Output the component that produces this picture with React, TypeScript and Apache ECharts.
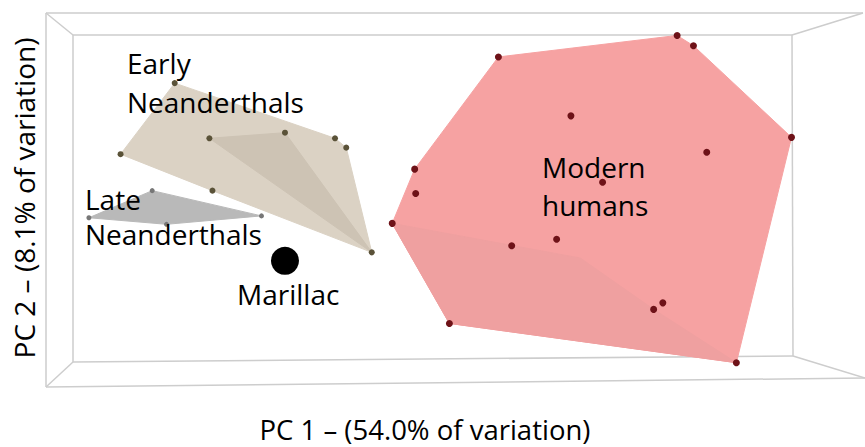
import React, { useEffect, useRef } from "react";
import * as echarts from "echarts";

// PC1 / PC2 scores (arbitrary PC units)
const earlyNeanderthals: [number, number][] = [
  [-2.74, 1.25], [-3.27, 0.49], [-2.40, 0.66], [-1.66, 0.72],
  [-1.17, 0.66], [-1.06, 0.56], [-2.37, 0.10], [-0.81, -0.56],
];
const earlyHull: [number, number][] = [
  [-2.74, 1.25], [-1.17, 0.66], [-1.06, 0.56], [-0.81, -0.56], [-2.37, 0.10], [-3.27, 0.49],
];
const earlyFacet: [number, number][] = [
  [-2.40, 0.66], [-1.66, 0.72], [-0.81, -0.56],
];
const lateNeanderthals: [number, number][] = [
  [-2.96, 0.10], [-3.58, -0.19], [-1.89, -0.17], [-2.82, -0.26],
];
const lateHull: [number, number][] = [
  [-3.58, -0.19], [-2.96, 0.10], [-1.89, -0.17], [-2.82, -0.26],
];
const marillac: [number, number][] = [[-1.66, -0.65]];
const modernHumans: [number, number][] = [
  [2.18, 1.76], [2.34, 1.65], [0.43, 1.53], [1.14, 0.90], [3.30, 0.67],
  [2.47, 0.51], [-0.39, 0.33], [1.45, 0.19], [-0.38, 0.07], [-0.61, -0.25],
  [1.00, -0.42], [0.56, -0.49], [2.04, -1.10], [1.95, -1.17], [-0.05, -1.32],
  [2.76, -1.74],
];
const modernHull: [number, number][] = [
  [0.43, 1.53], [2.18, 1.76], [2.34, 1.65], [3.30, 0.67], [2.76, -1.74],
  [-0.05, -1.32], [-0.61, -0.25], [-0.39, 0.33],
];
const modernFacet: [number, number][] = [
  [-0.61, -0.25], [1.23, -0.62], [1.95, -1.17], [2.76, -1.74], [-0.05, -1.32],
];

const xTitle = "PC 1 – (54.0% of variation)";
const yTitle = "PC 2 – (8.1% of variation)";

const FONT = '"Open Sans", sans-serif';

export default function App() {
  const ref = useRef<HTMLDivElement>(null);
  useEffect(() => {
    if (!ref.current) return;
    document.body.style.margin = "0";
    const chart = echarts.init(ref.current, undefined, { renderer: "svg" });
    const polys = [
      { pts: modernHull, fill: "#f6a2a2" },
      { pts: modernFacet, fill: "#efa0a0" },
      { pts: earlyHull, fill: "#dbd2c4" },
      { pts: earlyFacet, fill: "#cdc3b4" },
      { pts: lateHull, fill: "#b9b9b9" },
    ];
    const frameColor = "#cdcdcd";
    const line = (x1: number, y1: number, x2: number, y2: number) => ({
      type: "line",
      z: -10,
      shape: { x1, y1, x2, y2 },
      style: { stroke: frameColor, lineWidth: 1.5 },
    });
    const label = (text: string, x: number, y: number) => ({
      type: "text",
      z: 100,
      x,
      y,
      style: {
        text,
        font: `28px ${FONT}`,
        fill: "#000",
        textAlign: "left",
        textVerticalAlign: "middle",
      },
    });
    chart.setOption({
      animation: false,
      grid: { left: 46, top: 13, width: 817, height: 374 },
      xAxis: { type: "value", min: -4, max: 4, show: false },
      yAxis: { type: "value", min: -2, max: 2, show: false },
      graphic: [
        // outer frame
        line(46, 13, 863, 13),
        line(46, 13, 46, 387),
        line(46, 387, 865, 378),
        // inner frame
        line(73, 35, 792, 35),
        line(73, 35, 73, 362),
        line(73, 362, 793, 356),
        line(792, 35, 793, 356),
        // diagonals
        line(46, 13, 73, 35),
        line(863, 13, 792, 35),
        line(46, 387, 73, 362),
        line(865, 378, 793, 356),
        label("Early", 127, 63),
        label("Neanderthals", 127, 102),
        label("Late", 85, 199),
        label("Neanderthals", 85, 234),
        label("Marillac", 237, 294),
        label("Modern", 542, 167),
        label("humans", 542, 205),
        {
          type: "text",
          z: 100,
          x: 425,
          y: 429,
          style: {
            text: xTitle,
            font: `27.5px ${FONT}`,
            fill: "#000",
            textAlign: "center",
            textVerticalAlign: "middle",
          },
        },
        {
          type: "text",
          z: 100,
          x: 24,
          y: 198,
          rotation: Math.PI / 2,
          style: {
            text: yTitle,
            font: `28px ${FONT}`,
            fill: "#000",
            textAlign: "center",
            textVerticalAlign: "middle",
          },
        },
      ],
      series: [
        {
          type: "custom",
          z: 1,
          data: polys.map((p) => p.pts[0]),
          renderItem: (params: any, api: any) => {
            const p = polys[params.dataIndex];
            return {
              type: "polygon",
              shape: { points: p.pts.map((pt) => api.coord(pt)) },
              style: { fill: p.fill, stroke: p.fill, lineWidth: 1 },
            };
          },
        },
        {
          type: "scatter",
          z: 3,
          data: modernHumans,
          symbolSize: 7,
          itemStyle: { color: "#6e1218", opacity: 1 },
        },
        {
          type: "scatter",
          z: 3,
          data: earlyNeanderthals,
          symbolSize: 6,
          itemStyle: { color: "#5a5238", opacity: 1 },
        },
        {
          type: "scatter",
          z: 3,
          data: lateNeanderthals,
          symbolSize: 5,
          itemStyle: { color: "#777777", opacity: 1 },
        },
        {
          type: "scatter",
          z: 3,
          data: marillac,
          symbolSize: 28,
          itemStyle: { color: "#000000", opacity: 1 },
        },
      ],
    });
    return () => chart.dispose();
  }, []);
  return <div ref={ref} style={{ width: 865, height: 447 }} />;
}
